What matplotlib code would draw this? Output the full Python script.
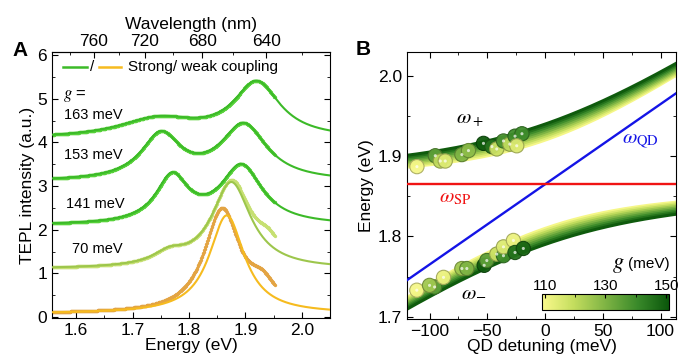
import numpy as np
import matplotlib
matplotlib.use('Agg')
import matplotlib.pyplot as plt
from matplotlib.colors import LinearSegmentedColormap, Normalize
from matplotlib.cm import ScalarMappable
from matplotlib.ticker import MultipleLocator, FixedLocator

plt.rcParams['font.family'] = ['Liberation Sans', 'DejaVu Sans']
plt.rcParams['mathtext.fontset'] = 'stix'

# ---------------- Panel A data (Lorentzian fit parameters) ----
spec_labels = ['163 meV', '153 meV', '141 meV', '70 meV', '']
spec_offset = [4.08, 3.10, 2.10, 1.10, 0.08]
low_E = [1.745, 1.750, 1.770, 1.765, 1.867]
low_A = [0.43, 1.03, 1.06, 0.26, 2.25]
low_W = [0.17, 0.085, 0.07, 0.07, 0.076]
up_E = [1.920, 1.897, 1.893, 1.875, 1.90]
up_A = [1.25, 1.27, 1.33, 1.97, 0.0]
up_W = [0.10, 0.10, 0.09, 0.085, 0.1]
# measured-data deviations (extra high-energy shoulder)
dat_peak_E = [1.745, 1.750, 1.770, 1.765, 1.858]
dat_peak_A = [0.43, 1.03, 1.06, 0.26, 2.35]
bump_E = [1.94, 1.94, 1.94, 1.94, 1.93]
bump_A = [0.0, 0.0, 0.0, 0.35, 0.50]
bump_W = [0.05, 0.05, 0.05, 0.05, 0.06]
fit_colors = ['#3cba28', '#3cba28', '#3cba28', '#9dc64c', '#f6bb1f']
dat_colors = ['#57d23a', '#57d23a', '#57d23a', '#c6e072', '#e3a443']
label_E = [1.578, 1.578, 1.582, 1.593]
label_I = [4.62, 3.70, 2.59, 1.56]

wl_major = [760, 720, 680, 640]
wl_minor = [780, 740, 700, 660, 620]

# ---------------- Panel B data ----------------
omega_SP = 1.865  # eV
g_curves = [110, 115, 120, 125, 130, 135, 140, 145, 150]  # meV
up_delta = [-110.9, -95.0, -90.7, -86.4, -72.0, -66.3, -53.3, -46.0, -41.8, -36.0, -30.5, -26.0, -20.0, -24.5]
up_energy = [1.887, 1.9006, 1.894, 1.894, 1.902, 1.907, 1.916, 1.912, 1.909, 1.919, 1.915, 1.925, 1.928, 1.913]
up_g = [110, 135, 120, 115, 130, 128, 150, 145, 118, 138, 120, 140, 140, 115]
lo_delta = [-111.0, -95.6, -100.0, -87.9, -72.0, -67.7, -52.7, -50.4, -41.8, -36.0, -36.0, -27.4, -26.0, -18.8]
lo_energy = [1.733, 1.737, 1.739, 1.749, 1.760, 1.760, 1.764, 1.770, 1.778, 1.776, 1.787, 1.795, 1.780, 1.785]
lo_g = [110, 135, 125, 112, 125, 130, 150, 135, 118, 140, 115, 112, 145, 148]


def lor(E, E0, A, W):
    return A / (1.0 + (2.0 * (E - E0) / W) ** 2)


fig = plt.figure(figsize=(6.78, 3.63), dpi=100)
axA = fig.add_axes([0.0767, 0.1226, 0.41, 0.7344])
axB = fig.add_axes([0.6003, 0.121, 0.397, 0.736])

# ---------------- Panel A ----------------
E_fit = np.linspace(1.55, 2.06, 700)
E_dat = np.linspace(1.557, 1.952, 450)
for i in range(5):
    dat = (spec_offset[i] + lor(E_dat, dat_peak_E[i], dat_peak_A[i], low_W[i])
           + lor(E_dat, up_E[i], up_A[i], up_W[i])
           + lor(E_dat, bump_E[i], bump_A[i], bump_W[i]))
    fit = (spec_offset[i] + lor(E_fit, low_E[i], low_A[i], low_W[i])
           + lor(E_fit, up_E[i], up_A[i], up_W[i]))
    axA.plot(E_dat, dat, 'o', ms=2.4, mec='none', color=dat_colors[i], zorder=2)
    axA.plot(E_fit, fit, '-', lw=1.5, color=fit_colors[i], zorder=3)

for lab, x, y in zip(spec_labels[:4], label_E, label_I):
    axA.text(x, y, lab, fontsize=10.5, va='center', ha='left')
axA.text(1.577, 5.05, r'$g$ =', fontsize=12, va='center', ha='left')

axA.set_xlim(1.557, 2.05)
axA.set_ylim(-0.03, 6.07)
axA.xaxis.set_major_locator(MultipleLocator(0.1))
axA.xaxis.set_minor_locator(MultipleLocator(0.05))
axA.yaxis.set_major_locator(MultipleLocator(1))
axA.yaxis.set_minor_locator(MultipleLocator(0.5))
axA.tick_params(which='both', direction='in', right=True, labelsize=12.5)
axA.tick_params(which='major', length=4)
axA.tick_params(which='minor', length=2.5)
axA.set_xlabel('Energy (eV)', fontsize=12.5, labelpad=0)
axA.set_ylabel('TEPL intensity (a.u.)', fontsize=12.5, labelpad=2)


def e2wl(E):
    E = np.asarray(E, dtype=float)
    with np.errstate(divide='ignore'):
        return 1239.84 / E


secax = axA.secondary_xaxis('top', functions=(e2wl, e2wl))
secax.xaxis.set_major_locator(FixedLocator(wl_major))
secax.xaxis.set_minor_locator(FixedLocator(wl_minor))
secax.tick_params(which='both', direction='in', labelsize=12.5, pad=2)
secax.tick_params(which='major', length=4)
secax.tick_params(which='minor', length=2.5)
secax.set_xlabel('Wavelength (nm)', fontsize=12.5, labelpad=4)

# manual legend
axA.plot([0.04, 0.125], [0.944, 0.944], transform=axA.transAxes, color=fit_colors[0], lw=1.8)
axA.text(0.137, 0.944, '/', transform=axA.transAxes, fontsize=11, va='center')
axA.plot([0.168, 0.25], [0.944, 0.944], transform=axA.transAxes, color=fit_colors[4], lw=1.8)
axA.text(0.275, 0.944, 'Strong/ weak coupling', transform=axA.transAxes, fontsize=11, va='center')

fig.text(0.018, 0.862, 'A', fontsize=15, fontweight='bold', va='center')
fig.text(0.525, 0.865, 'B', fontsize=15, fontweight='bold', va='center')

# ---------------- Panel B ----------------
cmap = LinearSegmentedColormap.from_list('gmap', ['#fafa8c', '#c4dd5e', '#7fb444', '#3a8a2a', '#0a560a'])
norm = Normalize(109, 151)
delta = np.linspace(-125, 120, 400)
for g in g_curves:
    split = 0.5 * np.sqrt(g ** 2 + delta ** 2)
    w_up = omega_SP + (delta / 2 + split) / 1000
    w_lo = omega_SP + (delta / 2 - split) / 1000
    c = cmap(norm(g))
    axB.plot(delta, w_up, color=c, lw=2.2, zorder=2)
    axB.plot(delta, w_lo, color=c, lw=2.2, zorder=2)

axB.plot(delta, omega_SP + delta / 1000, color='#1414e6', lw=1.7, zorder=3)
axB.plot([delta[0], delta[-1]], [omega_SP, omega_SP], color='#f01414', lw=1.7, zorder=3)

for dx, ey, gg in ((up_delta, up_energy, up_g), (lo_delta, lo_energy, lo_g)):
    cols = cmap(norm(np.array(gg)))
    edge = cols.copy()
    edge[:, :3] *= 0.7
    axB.scatter(dx, ey, s=105, c=cols, edgecolors=edge, linewidths=0.8, alpha=0.95, zorder=4)
    axB.scatter(dx, ey, s=5, c='white', edgecolors='none', alpha=0.7, zorder=5)

axB.text(-65, 1.946, r'$\omega_+$', fontsize=15, ha='center', va='center')
axB.text(-62, 1.731, r'$\omega_{-}$', fontsize=15, ha='center', va='center')
axB.text(67, 1.920, r'$\omega_{\mathrm{QD}}$', fontsize=15, color='#1414e6', ha='left', va='center')
axB.text(-92, 1.849, r'$\omega_{\mathrm{SP}}$', fontsize=15, color='#f01414', ha='left', va='center')

axB.set_xlim(-119.5, 113.5)
axB.set_ylim(1.697, 2.03)
axB.xaxis.set_major_locator(MultipleLocator(50))
axB.xaxis.set_minor_locator(MultipleLocator(25))
axB.yaxis.set_major_locator(MultipleLocator(0.1))
axB.yaxis.set_minor_locator(MultipleLocator(0.05))
axB.tick_params(which='both', direction='in', top=True, right=True, labelsize=12.5)
axB.tick_params(which='major', length=4)
axB.tick_params(which='minor', length=2.5)
axB.set_xlabel('QD detuning (meV)', fontsize=12.5, labelpad=0)
axB.set_ylabel('Energy (eV)', fontsize=12.5, labelpad=3)

cax = axB.inset_axes([0.5, 0.035, 0.474, 0.057])
cb = fig.colorbar(ScalarMappable(norm=norm, cmap=cmap), cax=cax, orientation='horizontal', ticklocation='top')
cb.set_ticks([110, 130, 150])
cb.ax.xaxis.set_minor_locator(FixedLocator([120, 140]))
cb.ax.tick_params(which='both', direction='in', labelsize=11, pad=1)
cb.ax.tick_params(which='major', length=3)
cb.ax.tick_params(which='minor', length=2)
cb.outline.set_linewidth(0.8)
axB.text(0.785, 0.205, r'$g$', transform=axB.transAxes, fontsize=16, ha='center', va='center')
axB.text(0.975, 0.205, '(meV)', transform=axB.transAxes, fontsize=11, ha='right', va='center')

fig.savefig('out.png', dpi=100)
